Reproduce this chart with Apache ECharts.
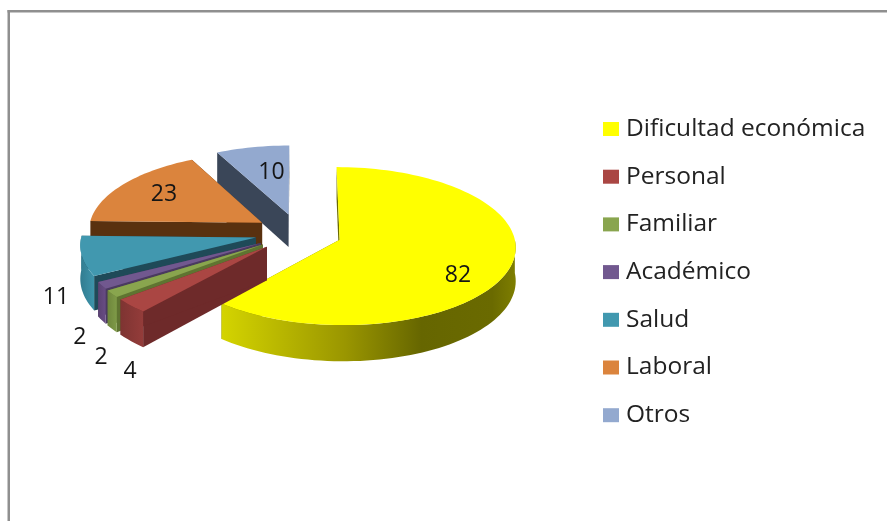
<!DOCTYPE html>
<html><head><meta charset="utf-8">
<style>html,body{margin:0;padding:0;background:#fff}#c{width:887px;height:521px}</style>
<script src="https://cdn.jsdelivr.net/npm/echarts@6/dist/echarts.min.js"></script>
</head><body><div id="c"></div>
<script>
const categories = ['Dificultad económica','Personal','Familiar','Académico','Salud','Laboral','Otros'];
const values = [82,4,2,2,11,23,10];
const topColors = ['#FFFF00','#AA4643','#89A54E','#71588F','#4198AF','#DB843D','#93A9CF'];
const cutColors = ['#6b6b00','#6E2A2A','#5F7431','#4A3A60','#1F4A58','#59310F','#3A4658'];
const wallFrom = ['#D4D400','#943C3A','#7F9A48','#684C84','#3E94AB','#B06A30','#7587A8'];
const wallTo = ['#666600','#7E3432','#6E863C','#5A4272','#327C90','#8E5526','#5E6C88'];
const labelOffsets = [[-52,8],[-1,66],[-11,64],[-22,52],[-26,41],[40,10],[19,25]];

const view = {cx:298.5, cy:233, rx:174, ry:77.4, persp:0.0804, explode:0.25, depth:33};
const total = values.reduce((a,b)=>a+b,0);
const rad = d => d*Math.PI/180;
function project(X,Y,drop){
  const p = 1/(1-view.persp*Y);
  return [view.cx+view.rx*X*p, view.cy+view.ry*Y*p+(drop?view.depth*p:0)];
}
const slices = []; let acc = 0;
values.forEach(v=>{const a=acc/total*360; acc+=v; slices.push([a,acc/total*360]);});
function renderSlice(i){
  const [a,b] = slices[i], m=(a+b)/2;
  const ax=view.explode*Math.sin(rad(m)), ay=-view.explode*Math.cos(rad(m));
  const disk = t=>[ax+Math.sin(rad(t)), ay-Math.cos(rad(t))];
  const arc = (s,e)=>{const n=Math.max(2,Math.ceil((e-s)/2)),o=[];for(let k=0;k<=n;k++){o.push(disk(s+(e-s)*k/n));}return o;};
  const children = [];
  const quad = t=>{const d=disk(t);return [project(ax,ay),project(d[0],d[1]),project(d[0],d[1],true),project(ax,ay,true)];};
  children.push({type:'polygon',shape:{points:quad(a)},style:{fill:cutColors[i]}});
  children.push({type:'polygon',shape:{points:quad(b)},style:{fill:cutColors[i]}});
  const s=Math.max(a,90), e=Math.min(b,270);
  if(e>s){
    const pts=arc(s,e);
    const wall=pts.map(q=>project(q[0],q[1])).concat(pts.slice().reverse().map(q=>project(q[0],q[1],true)));
    children.push({type:'polygon',shape:{points:wall},style:{fill:{type:'linear',x:1,y:0,x2:0,y2:0,global:false,
      colorStops:i===0?[{offset:0,color:'#7E7E00'},{offset:0.08,color:'#6A6A00'},{offset:0.32,color:'#666600'},{offset:0.58,color:'#9A9600'},{offset:1,color:'#D4D400'}]
      :[{offset:0,color:wallFrom[i]},{offset:1,color:wallTo[i]}]}}});
  }
  const top=[project(ax,ay)].concat(arc(a,b).map(q=>project(q[0],q[1])));
  children.push({type:'polygon',shape:{points:top},style:{fill:topColors[i]}});
  const md=disk(m), lp=project(md[0],md[1]);
  children.push({type:'text',x:lp[0]+labelOffsets[i][0],y:lp[1]+labelOffsets[i][1],
    style:{text:String(values[i]),font:'23px "Open Sans"',fill:'#151515',align:'center',verticalAlign:'middle'}});
  return {type:'group',children};
}
const series = categories.map((name,i)=>({
  type:'custom',name,coordinateSystem:'none',z:10+(categories.length-i)%categories.length,
  itemStyle:{color:topColors[i]},data:[values[i]],silent:true,
  renderItem:()=>renderSlice(i)
}));
const chart = echarts.init(document.getElementById('c'),null,{renderer:'canvas'});
chart.setOption({
  animation:false,backgroundColor:'#fff',
  legend:{orient:'vertical',left:598,top:109,data:categories.map(name=>({name,icon:'rect'})),
    itemWidth:16,itemHeight:14,itemGap:17.7,selectedMode:false,
    textStyle:{fontFamily:'"Open Sans"',fontSize:24.5,color:'#222',lineHeight:30,padding:[0,0,0,2]}},
  graphic:[
    {type:'rect',shape:{x:7.5,y:10,width:2.5,height:511},style:{fill:'#8f8f8f'},silent:true},
    {type:'rect',shape:{x:7.5,y:10,width:880,height:2.5},style:{fill:'#8f8f8f'},silent:true}
  ],
  series
});
</script></body></html>
